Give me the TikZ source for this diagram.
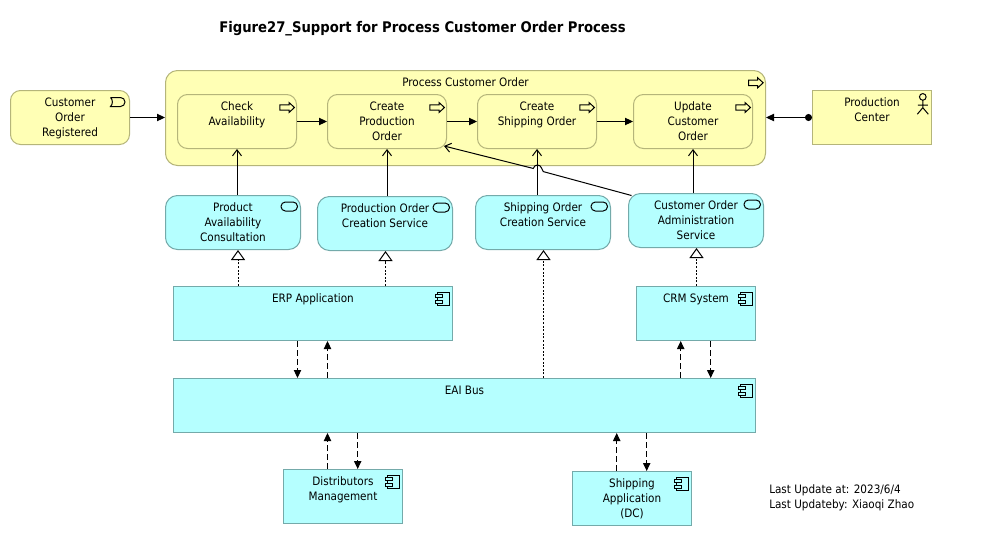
\documentclass[tikz,border=0pt]{standalone}
\usepackage{fontspec}
\setmainfont{DejaVu Sans Condensed}
\usetikzlibrary{arrows.meta,calc}
\definecolor{ylfill}{HTML}{FFFFB5}
\definecolor{ylline}{HTML}{B5B57A}
\definecolor{blfill}{HTML}{B5FFFF}
\definecolor{blline}{HTML}{74AAAA}
\tikzset{
  x=0.75pt,y=-0.75pt,
  ylrect/.style={draw=ylline,fill=ylfill,line width=0.75pt,inner sep=0pt},
  ylround/.style={ylrect,rounded corners=7.5pt},
  ylgroup/.style={ylrect,rounded corners=9pt},
  blrect/.style={draw=blline,fill=blfill,line width=0.75pt,inner sep=0pt},
  blround/.style={blrect,rounded corners=9pt},
  conn/.style={line width=0.75pt,black},
  trig/.style={conn,-{Triangle[length=6pt,width=5.5pt]}},
  serving/.style={conn,-{Straight Barb[length=4.5pt,width=6.75pt]}},
  realize/.style={conn,dash pattern=on 1.5pt off 1.2pt,-{Triangle[open,fill=white,length=7.5pt,width=10.5pt,line width=0.75pt,sep=0pt]}},
  flow/.style={conn,dash pattern=on 4.5pt off 2.25pt,-{Triangle[length=6pt,width=5.5pt]}},
  assign/.style={conn,{Circle[length=5.25pt,width=5.25pt]}-{Triangle[length=6pt,width=5.5pt]}},
  icon/.style={line width=0.75pt,black},
  procicon/.pic={\draw[icon] (0,0) -- (-5.5,-5) -- (-5.5,-2.7) -- (-14.7,-2.7) -- (-14.7,2.7) -- (-5.5,2.7) -- (-5.5,5) -- cycle;},
  eventicon/.pic={\draw[icon] (0,0) -- (10,0) arc[start angle=90,end angle=-90,radius=3.375pt] -- (0,9) .. controls (2.5,7) and (2.5,2) .. (0,0);},
  serviceicon/.pic={\draw[icon,rounded corners=3.3pt] (0,0) rectangle (16.5,9);},
  compicon/.pic={
    \draw[icon] (2,0) rectangle (13.5,13);
    \draw[icon,fill=blfill] (0,2.3) rectangle (6.5,5.6);
    \draw[icon,fill=blfill] (0,8) rectangle (6.5,11.3);},
  actoricon/.pic={
    \draw[icon] (0,-3.3) circle[radius=2.5pt];
    \draw[icon] (0,0) -- (0,7.5) (-5,5) -- (5,5) (-5.5,14) -- (0,7.5) -- (5.5,14);},
}
\newcommand{\abox}[7]{%
  \pgfmathsetlengthmacro\bw{(#5-#3)*0.75pt}%
  \pgfmathsetlengthmacro\bh{(#6-#4)*0.75pt}%
  \node[#1,minimum width=\bw,minimum height=\bh] (#2) at ({(#3+#5)/2},{(#4+#6)/2})
    {\parbox[c][\bh][t]{\bw}{\fontsize{8.7}{11.25}\selectfont\centering\rule{0pt}{12pt}#7}};}
\begin{document}
\begin{tikzpicture}
\useasboundingbox (0,0) rectangle (989,536);
\fill[white] (0,0) rectangle (989,536);

\node[anchor=base west,inner sep=0pt,font=\fontsize{11}{14}\selectfont\bfseries] (title) at (219,32) {Figure27\_Support for Process Customer Order Process};

\abox{ylgroup}{grp}{165.5}{70.5}{765.5}{165.5}{Process Customer Order}
\abox{ylround}{evt}{10.5}{90.5}{129.5}{144.5}{Customer\\Order\\Registered}
\abox{ylround}{chk}{177.5}{94.5}{296.5}{148.5}{Check\\Availability}
\abox{ylround}{prod}{327.5}{94.5}{446.5}{148.5}{Create\\Production\\Order}
\abox{ylround}{ship}{477.5}{94.5}{596.5}{148.5}{Create\\Shipping Order}
\abox{ylround}{upd}{633.5}{94.5}{752.5}{148.5}{Update\\Customer\\Order}
\abox{ylrect}{ctr}{812.5}{90.5}{931.5}{144.5}{Production\\Center}

\abox{blround}{pac}{165.5}{195.5}{300.5}{249.5}{Product\\Availability\\Consultation}
\abox{blround}{pocs}{317.5}{196.5}{452.5}{250.5}{Production Order\\Creation Service}
\abox{blround}{socs}{475.5}{195.5}{610.5}{249.5}{Shipping Order\\Creation Service}
\abox{blround}{coas}{628.5}{193.5}{763.5}{247.5}{Customer Order\\Administration\\Service}

\abox{blrect}{erp}{173.5}{286.5}{452.5}{340.5}{ERP Application}
\abox{blrect}{crm}{636.5}{286.5}{755.5}{340.5}{CRM System}
\abox{blrect}{eai}{173.5}{378.5}{755.5}{432.5}{EAI Bus}
\abox{blrect}{dist}{283.5}{469.5}{402.5}{523.5}{Distributors\\Management}
\abox{blrect}{sapp}{572.5}{471.5}{691.5}{525.5}{Shipping\\Application\\(DC)}

% icons
\foreach \n in {grp}{\pic at ($(\n.north east)+(-2.8,12.8)$) {procicon};}
\foreach \n in {chk,prod,ship,upd}{\pic at ($(\n.north east)+(-2.5,13.5)$) {procicon};}
\pic at ($(evt.north east)+(-19.5,7.5)$) {eventicon};
\foreach \n in {pac,pocs,socs,coas}{\pic at ($(\n.north east)+(-20,7)$) {serviceicon};}
\foreach \n in {erp,crm,eai,dist,sapp}{\pic at ($(\n.north east)+(-17.2,6.2)$) {compicon};}
\pic at ($(ctr.north east)+(-9.2,10.2)$) {actoricon};

% triggering
\draw[trig] (evt.east) -- (grp.west |- evt.east);
\draw[trig] (chk.east) -- (prod.west);
\draw[trig] (prod.east) -- (ship.west);
\draw[trig] (ship.east) -- (upd.west);
\draw[assign] (ctr.west) -- (grp.east |- ctr.west);

% serving
\draw[serving] (chk.south |- pac.north) -- (chk.south);
\draw[serving] (prod.south |- pocs.north) -- (prod.south);
\draw[serving] (ship.south |- socs.north) -- (ship.south);
\draw[serving] (upd.south |- coas.north) -- (upd.south);
\coordinate (jumpa) at (543.3,171.6);
\coordinate (jumpb) at (531.5,168);
\draw[serving] ($(coas.north west)+(3.5,2.5)$) -- (jumpa) -- (541.8,168.5)
  .. controls (540.5,163.8) and (534.5,163.8) .. (533.2,168.5) -- (jumpb) -- ($(prod.south east)+(-3,-3)$);

% realization
\coordinate (ra) at (238,0);
\coordinate (rb) at (385.5,0);
\coordinate (rc) at (543.5,0);
\coordinate (rd) at (696.5,0);
\draw[realize] (ra |- erp.north) -- (ra |- pac.south);
\draw[realize] (rb |- erp.north) -- (rb |- pocs.south);
\draw[realize] (rc |- eai.north) -- (rc |- socs.south);
\draw[realize] (rd |- crm.north) -- (rd |- coas.south);

% flows
\coordinate (fa) at (297.5,0);
\coordinate (fb) at (327.5,0);
\coordinate (fc) at (357.7,0);
\coordinate (fd) at (616.7,0);
\coordinate (fe) at (646.7,0);
\coordinate (ff) at (680.7,0);
\coordinate (fg) at (710.7,0);
\draw[flow] (fa |- erp.south) -- (fa |- eai.north);
\draw[flow] (fb |- eai.north) -- (fb |- erp.south);
\draw[flow] (fb |- dist.north) -- (fb |- eai.south);
\draw[flow] (fc |- eai.south) -- (fc |- dist.north);
\draw[flow] (fd |- sapp.north) -- (fd |- eai.south);
\draw[flow] (fe |- eai.south) -- (fe |- sapp.north);
\draw[flow] (ff |- eai.north) -- (ff |- crm.south);
\draw[flow] (fg |- crm.south) -- (fg |- eai.north);

% footer
\node[anchor=north west,inner sep=0pt,align=left,font=\fontsize{8.7}{11.25}\selectfont] (foot) at (769,484) {Last Update at: 2023/6/4\\Last Updateby: Xiaoqi Zhao};
\end{tikzpicture}
\end{document}
